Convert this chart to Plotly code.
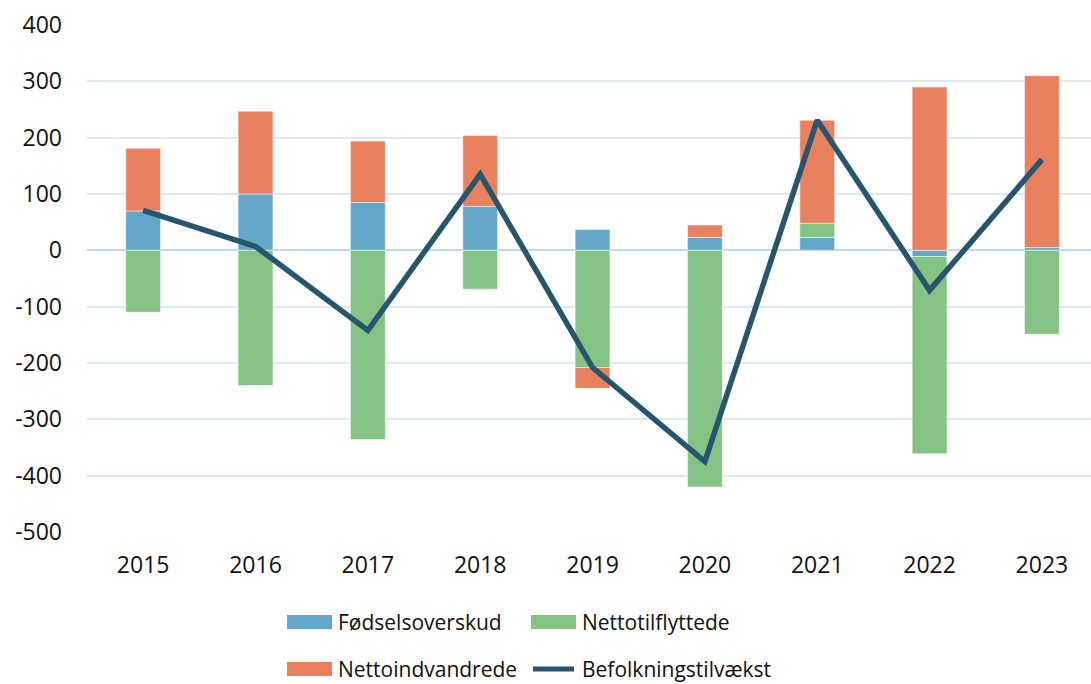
import plotly.graph_objects as go

years = ["2015", "2016", "2017", "2018", "2019", "2020", "2021", "2022", "2023"]
foedselsoverskud = [70, 100, 85, 78, 37, 23, 23, -11, 5]
nettotilflyttede = [-110, -240, -336, -69, -208, -420, 25, -350, -149]
nettoindvandrede = [111, 147, 109, 126, -37, 22, 183, 290, 305]
befolkningstilvaekst = [71, 7, -142, 135, -208, -375, 231, -71, 161]
y_ticks = [400, 300, 200, 100, 0, -100, -200, -300, -400, -500]
y_ticklabels = ["400", "300", "200", "100", "0", "-100", "-200", "-300", "-400", "-500"]
series_names = ["Fødselsoverskud", "Nettotilflyttede", "Nettoindvandrede", "Befolkningstilvækst"]

FONT = "Open Sans"
C_BLUE, C_GREEN, C_RED, C_LINE = "#64A8C9", "#85C385", "#E9805E", "#26566E"
W, H = 1091, 684
ML, MR, MT, MB = 87, 0, 25, 152
PW, PH = W - ML - MR, H - MT - MB

fig = go.Figure()
bar_line = dict(width=1, color="rgba(255,255,255,0.5)")
fig.add_trace(go.Bar(x=years, y=foedselsoverskud, name=series_names[0],
                     marker=dict(color=C_BLUE, line=bar_line)))
fig.add_trace(go.Bar(x=years, y=nettotilflyttede, name=series_names[1],
                     marker=dict(color=C_GREEN, line=bar_line)))
fig.add_trace(go.Bar(x=years, y=nettoindvandrede, name=series_names[2],
                     marker=dict(color=C_RED, line=bar_line)))
fig.add_trace(go.Scatter(x=years, y=befolkningstilvaekst, name=series_names[3],
                         mode="lines", line=dict(color=C_LINE, width=5.5)))

# custom legend (pixel positions converted to paper coords)
def px(x):
    return (x - ML) / PW

def py(y):
    return (MT + PH - y) / PH

shapes = []
annotations = []
legend_items = [
    (series_names[0], C_BLUE, "rect", 287, 622),
    (series_names[1], C_GREEN, "rect", 531, 622),
    (series_names[2], C_RED, "rect", 287, 669),
    (series_names[3], C_LINE, "line", 531, 669),
]
for name, col, kind, x0, yc in legend_items:
    if kind == "rect":
        shapes.append(dict(type="rect", xref="paper", yref="paper",
                           x0=px(x0), x1=px(x0 + 45), y0=py(yc - 7), y1=py(yc + 7),
                           fillcolor=col, line=dict(width=0)))
    else:
        shapes.append(dict(type="line", xref="paper", yref="paper",
                           x0=px(x0 + 2), x1=px(x0 + 43), y0=py(yc), y1=py(yc),
                           line=dict(color=col, width=5)))
    annotations.append(dict(text=name, xref="paper", yref="paper", x=px(x0 + 49), y=py(yc),
                            xanchor="left", yanchor="middle", showarrow=False,
                            font=dict(family=FONT, size=21, color="#111111")))

fig.update_layout(
    width=W, height=H,
    barmode="relative", bargap=0.69,
    plot_bgcolor="white", paper_bgcolor="white",
    margin=dict(l=ML, r=MR, t=MT, b=MB),
    font=dict(family=FONT, size=23, color="#111111"),
    showlegend=False,
    shapes=shapes, annotations=annotations,
)
fig.update_yaxes(range=[-500, 400], tickvals=y_ticks, ticktext=y_ticklabels,
                 showgrid=True, gridcolor="#DCE9F3", gridwidth=2,
                 zeroline=True, zerolinecolor="#BFDAEC", zerolinewidth=2,
                 ticklabelstandoff=24, tickfont=dict(size=23), showline=False, automargin=False)
fig.update_xaxes(range=[-0.5, 8.437], showgrid=False, showline=False, ticks="",
                 ticklabelstandoff=17, tickfont=dict(size=23), automargin=False)

fig.write_html("out.html", config={"displayModeBar": False})

# remove the default page margin so the figure sits at the window's top-left corner
with open("out.html", encoding="utf-8") as f:
    html = f.read()
html = html.replace("<head>", "<head><style>html,body{margin:0;padding:0;overflow:hidden;}</style>", 1)
with open("out.html", "w", encoding="utf-8") as f:
    f.write(html)
